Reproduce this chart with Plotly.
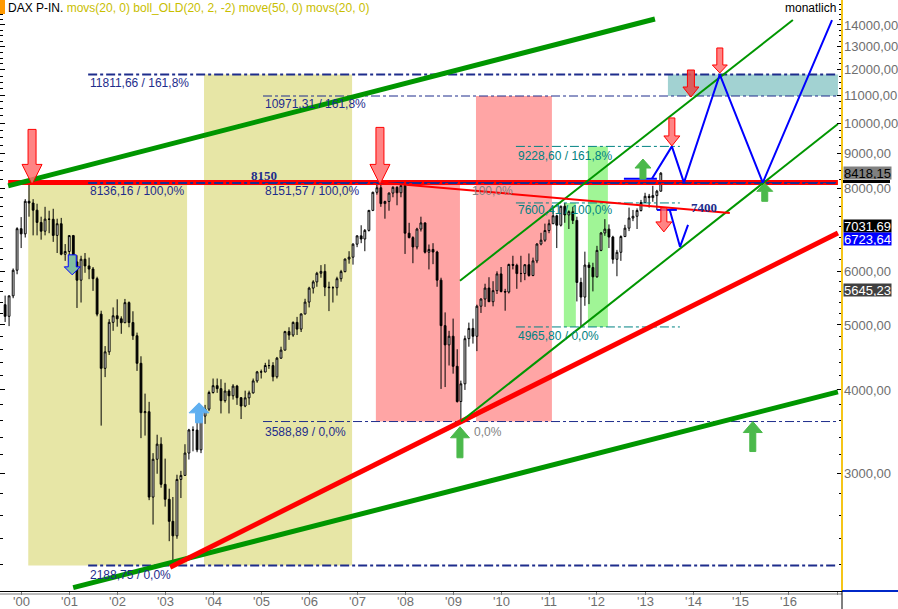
import numpy as np
import pandas as pd
import plotly.graph_objects as go

# ---------------- data (monthly DAX candles) ----------------
months = pd.date_range("1999-09-01", "2013-05-01", freq="MS")

opens = [5360, 5150, 5525, 6033,
         6958, 6835, 7644, 7599, 7414, 7109, 6898, 7190, 7186, 6799, 7077, 6373,
         6434, 6795, 6208, 5830, 6265, 6123, 6058, 5861, 5189, 4308, 4559, 5045,
         5160, 5107, 5039, 5398, 5041, 4818, 4383, 3700, 3712, 2769, 3153, 3321,
         2893, 2748, 2548, 2424, 2942, 2983, 3221, 3487, 3485, 3257, 3656, 3745,
         3965, 4059, 4018, 3856, 3985, 3921, 4053, 3895, 3785, 3893, 3960, 4126,
         4256, 4254, 4350, 4349, 4185, 4461, 4586, 4887, 4829, 5044, 4929, 5193,
         5408, 5674, 5796, 5970, 6009, 5693, 5683, 5682, 5860, 6004, 6269, 6309,
         6597, 6789, 6715, 6917, 7409, 7883, 8007, 7584, 7638, 7862, 8019, 7871,
         8067, 6851, 6748, 6535, 6949, 7097, 6418, 6479, 6422, 5831, 4988, 4669,
         4810, 4338, 3844, 4085, 4770, 4941, 4809, 5332, 5465, 5675, 5415, 5625,
         5957, 5608, 5598, 6154, 6136, 5964, 5966, 6148, 5925, 6229, 6601, 6688,
         6914, 7077, 7273, 7041, 7514, 7294, 7376, 7159, 5785, 5502, 6141, 6089,
         5898, 6458, 6856, 6947, 6761, 6264, 6416, 6772, 6970, 7216, 7260, 7405,
         7612, 7776, 7741, 7795, 7914]
highs = [5530, 5530, 6070, 6992,
         7240, 7700, 8136.16, 7700, 7580, 7250, 7500, 7400, 7450, 7200, 7220, 6600,
         6800, 6810, 6350, 6340, 6400, 6300, 6100, 5900, 5250, 4650, 5100, 5310,
         5460, 5150, 5467, 5420, 5240, 4870, 4490, 3950, 3840, 3220, 3430, 3400,
         3160, 2850, 2770, 2990, 3030, 3320, 3500, 3530, 3680, 3670, 3800, 3990,
         4160, 4160, 4150, 4100, 4010, 4080, 4070, 3900, 3990, 3990, 4160, 4270,
         4290, 4390, 4440, 4400, 4480, 4640, 4900, 4960, 5060, 5140, 5200, 5470,
         5700, 5830, 6000, 6140, 6160, 5800, 5710, 5900, 6040, 6280, 6440, 6620,
         6800, 7040, 6950, 7420, 7900, 8090, 8151.57, 7660, 7880, 8050, 8050, 8100,
         8100, 7100, 6780, 6980, 7250, 7110, 6590, 6620, 6450, 5880, 5220, 4900,
         5110, 4600, 4130, 4820, 5040, 5110, 5360, 5480, 5760, 5890, 5810, 6010,
         6100, 5660, 6170, 6340, 6170, 6340, 6160, 6390, 6300, 6620, 6860, 7080,
         7180, 7440, 7300, 7530, 7600.41, 7410, 7500, 7250, 5880, 6430, 6200, 6190,
         6560, 6880, 7190, 7060, 6790, 6470, 6800, 7050, 7480, 7420, 7460, 7680,
         7870, 7840, 8060, 7950, 8450]
lows = [5050, 4980, 5480, 5950,
        6510, 6750, 7250, 6800, 6800, 6700, 6800, 6850, 6650, 6400, 6350, 6230,
        6200, 6100, 5300, 5400, 5980, 5850, 5620, 5150, 3539, 4180, 4510, 4900,
        4970, 4850, 5030, 4960, 4750, 4270, 3390, 3420, 2740, 2520, 3000, 2860,
        2680, 2380, 2188.75, 2400, 2760, 2980, 3150, 3240, 3230, 3220, 3560, 3720,
        3950, 3960, 3690, 3830, 3690, 3870, 3800, 3620, 3770, 3800, 3950, 4100,
        4160, 4250, 4300, 4120, 4160, 4450, 4580, 4750, 4800, 4830, 4880, 5180,
        5310, 5570, 5700, 5880, 5520, 5243, 5400, 5530, 5800, 5990, 6170, 6150,
        6530, 6620, 6440, 6890, 7390, 7820, 7500, 7200, 7400, 7750, 7540, 7750,
        6380, 6730, 6180, 6480, 6890, 6390, 6050, 6160, 5700, 4014, 4040, 4350,
        4230, 3830, 3588.89, 4000, 4640, 4690, 4570, 5210, 5320, 5410, 5330, 5560,
        5590, 5250, 5570, 6050, 5660, 5790, 5830, 5900, 5910, 6180, 6570, 6650,
        6850, 7070, 6510, 7010, 7100, 6950, 7070, 5420, 4965.80, 5340, 5370, 5610,
        5880, 6440, 6790, 6510, 6170, 5910, 6230, 6760, 6900, 7140, 6950, 7380,
        7600, 7480, 7630, 7420, 7900]
closes = [5150, 5525, 6033, 6958,
          6835, 7644, 7599, 7414, 7109, 6898, 7190, 7186, 6799, 7077, 6373, 6434,
          6795, 6208, 5830, 6265, 6123, 6058, 5861, 5189, 4308, 4559, 5045, 5160,
          5107, 5039, 5398, 5041, 4818, 4383, 3700, 3712, 2769, 3153, 3321, 2893,
          2748, 2548, 2424, 2942, 2983, 3221, 3487, 3485, 3257, 3656, 3745, 3965,
          4059, 4018, 3856, 3985, 3921, 4053, 3895, 3785, 3893, 3960, 4126, 4256,
          4254, 4350, 4349, 4185, 4461, 4586, 4887, 4829, 5044, 4929, 5193, 5408,
          5674, 5796, 5970, 6009, 5693, 5683, 5682, 5860, 6004, 6269, 6309, 6597,
          6789, 6715, 6917, 7409, 7883, 8007, 7584, 7638, 7862, 8019, 7871, 8067,
          6851, 6748, 6535, 6949, 7097, 6418, 6479, 6422, 5831, 4988, 4669, 4810,
          4338, 3844, 4085, 4770, 4941, 4809, 5332, 5465, 5675, 5415, 5625, 5957,
          5608, 5598, 6154, 6136, 5964, 5966, 6148, 5925, 6229, 6601, 6688, 6914,
          7077, 7273, 7041, 7514, 7294, 7376, 7159, 5785, 5502, 6141, 6089, 5898,
          6458, 6856, 6947, 6761, 6264, 6416, 6772, 6970, 7216, 7260, 7405, 7612,
          7776, 7741, 7795, 7914, 8418.15]

# Fibonacci levels
fib_navy = [11811.66, 10971.31, 8136.16, 8151.57, 3588.89, 2188.75]
fib_teal = [9228.60, 7600.41, 4965.80]
level_8150 = 8150
level_7400 = 7421

# indicator values shown on the right axis
value_labels = [("8418,15", 8418.15, "#808080", "black"),
                ("7031,69", 7031.69, "black", "white"),
                ("6723,64", 6723.64, "#0000FF", "white"),
                ("5645,23", 5645.23, "#404040", "white")]

# axis ticks (7000 is hidden behind the value boxes in the reference)
x_years = list(range(2000, 2017))
x_labels = ["'%02d" % (y % 100) for y in x_years]
y_ticks = [3000, 4000, 5000, 6000, 8000, 9000, 10000, 11000, 12000, 13000, 14000]
y_minor = list(range(2200, 6000, 200)) + list(range(6250, 15001, 250))

# ---------------- geometry helpers ----------------
X_RANGE = ["1999-07-24", "2017-02-08"]
Y_MIN, Y_MAX = 2006, 15254
PLOT_W, PLOT_H = 842, 591
DAYS_PER_PX = (pd.Timestamp(X_RANGE[1]) - pd.Timestamp(X_RANGE[0])).days / PLOT_W
DEC_PER_PX = (np.log10(Y_MAX) - np.log10(Y_MIN)) / PLOT_H

NAVY = "rgb(30,45,140)"
TEAL = "rgb(0,130,130)"
GREEN = "rgb(0,150,0)"
RED = "rgb(255,0,0)"
BLUE = "rgb(0,0,255)"

fig = go.Figure()
shapes = []


def rect(x0, x1, y0, y1, color):
    shapes.append(dict(type="rect", xref="x", yref="y", x0=x0, x1=x1, y0=y0, y1=y1,
                       fillcolor=color, line=dict(width=0), layer="below"))


def line(xs, ys, color, width, dash="solid"):
    fig.add_trace(go.Scatter(x=xs, y=ys, mode="lines",
                             line=dict(color=color, width=width, dash=dash),
                             hoverinfo="skip"))


def arrow(tip_date, tip_price, direction, length, head_len, shaft_w, head_w,
          fill, outline):
    t = pd.Timestamp(tip_date)
    s = 1 if direction == "down" else -1
    pts = [(0, 0), (head_w / 2, head_len), (shaft_w / 2, head_len),
           (shaft_w / 2, length), (-shaft_w / 2, length),
           (-shaft_w / 2, head_len), (-head_w / 2, head_len), (0, 0)]
    xs = [t + pd.Timedelta(days=dx * DAYS_PER_PX) for dx, dy in pts]
    ys = [tip_price * 10 ** (s * dy * DEC_PER_PX) for dx, dy in pts]
    fig.add_trace(go.Scatter(x=xs, y=ys, mode="lines", fill="toself",
                             fillcolor=fill, line=dict(color=outline, width=1),
                             hoverinfo="skip"))


# ---------------- shaded zones ----------------
KHAKI = "rgb(231,230,166)"
PINK = "rgb(255,165,165)"
LGREEN = "rgb(160,245,150)"
LTEAL = "rgb(162,210,210)"
rect("2000-02-24", "2003-06-17", fib_navy[5], fib_navy[2], KHAKI)
rect("2003-10-24", "2006-11-24", fib_navy[5], fib_navy[0], KHAKI)
rect("2007-05-24", "2009-02-22", fib_navy[4], fib_navy[3], PINK)
rect("2009-06-24", "2011-01-23", fib_navy[4], fib_navy[1], PINK)
rect("2011-04-24", "2011-07-24", fib_teal[2], fib_teal[1], LGREEN)
rect("2011-10-24", "2012-03-24", fib_teal[2], fib_teal[0], LGREEN)
rect("2013-06-24", "2017-01-08", fib_navy[1], fib_navy[0], LTEAL)

# ---------------- candles ----------------
fig.add_trace(go.Candlestick(
    x=months, open=opens, high=highs, low=lows, close=closes,
    increasing=dict(line=dict(color="black", width=1), fillcolor="white"),
    decreasing=dict(line=dict(color="black", width=1), fillcolor="black"),
    whiskerwidth=0, hoverinfo="skip"))

# ---------------- horizontal fib lines ----------------
END = "2017-01-08"
line(["1999-09-24", END], [level_8150, level_8150], RED, 5)
line(["2001-05-25", END], [fib_navy[0]] * 2, NAVY, 2, "dashdot")
line(["2005-01-15", END], [fib_navy[1]] * 2, NAVY, 1, "dashdot")
line(["2001-05-25", END], [fib_navy[2]] * 2, NAVY, 2, "dashdot")
line(["2005-01-15", END], [fib_navy[3]] * 2, NAVY, 1, "dashdot")
line(["2005-01-15", END], [fib_navy[4]] * 2, NAVY, 1, "dashdot")
line(["2001-05-25", END], [fib_navy[5]] * 2, NAVY, 2, "dashdot")
for v in fib_teal:
    line(["2010-04-24", "2013-09-23"], [v, v], TEAL, 1, "dashdot")

# ---------------- trend lines ----------------
line(["1999-09-24", "2013-03-17"], [8057, 14290], GREEN, 5)
line(["2001-01-31", END], [2029, 3974], GREEN, 5)
line(["2003-02-08", END], [2177, 6856], RED, 5)
line(["2009-02-22", "2016-01-31"], [5818, 14238], GREEN, 2)
line(["2009-03-01", END], [fib_navy[4], 9965], GREEN, 2)
line(["2007-06-24", "2014-10-08"], [fib_navy[3], 7345], RED, 2)

# ---------------- projected paths ----------------
line(["2012-07-24", "2013-04-01"], [8260, 8260], BLUE, 2)
line(["2013-02-22", "2013-07-24", "2013-10-24", "2014-07-24", "2015-06-16", "2016-11-24"],
     [8260, fib_teal[0], level_8150, fib_navy[0], level_8150, 14240], BLUE, 2)
line(["2013-04-01", "2013-08-31"], [level_7400, level_7400], BLUE, 2)
line(["2013-07-08", "2013-09-24", "2013-11-24"], [level_7400, 6537, 7048], BLUE, 2)

# ---------------- arrows ----------------
SALMON = "rgba(255,110,110,0.85)"
GFILL = "rgb(75,185,75)"
arrow("2000-03-24", 8100, "down", 55, 20, 8, 20, SALMON, RED)
arrow("2007-06-24", 8100, "down", 57, 20, 8, 20, SALMON, RED)
arrow("2013-07-24", 9243, "down", 28, 10, 6, 16, SALMON, RED)
arrow("2013-12-16", 10934, "down", 27, 10, 7, 16, "rgba(225,80,80,0.9)", RED)
arrow("2014-07-24", 11874, "down", 25, 8, 6, 15, SALMON, RED)
arrow("2013-05-24", 6881, "down", 24, 10, 6, 16, SALMON, RED)
arrow("2009-02-22", 3525, "up", 31, 11, 6, 19, GFILL, GFILL)
arrow("2012-12-16", 8837, "up", 20, 9, 6, 16, GFILL, GFILL)
arrow("2015-07-01", 8130, "up", 18, 8, 6, 16, GFILL, GFILL)
arrow("2015-04-01", 3588.89, "up", 30, 11, 6, 19, GFILL, GFILL)
arrow("2003-09-16", 3827, "up", 20, 10, 7, 20, "rgb(95,175,240)", "rgb(95,175,240)")
arrow("2001-01-24", 5938, "down", 20, 8, 8, 16, "rgb(130,190,160)", BLUE)

# ---------------- text annotations ----------------
ann = []


def txt(x, yv, text, color, size=12, xanchor="left", yshift=0, bold=False, family="Liberation Sans, Arial"):
    ann.append(dict(x=x, y=np.log10(yv), xref="x", yref="y", text=text,
                    showarrow=False, xanchor=xanchor, yanchor="middle", yshift=yshift,
                    font=dict(color=color, size=size, family=family,
                              weight="bold" if bold else "normal")))


txt("2001-05-25", fib_navy[0], "11811,66 / 161,8%", NAVY, yshift=-8)
txt("2005-01-15", fib_navy[1], "10971,31 / 161,8%", NAVY, yshift=-8)
txt("2001-05-25", fib_navy[2], "8136,16 / 100,0%", NAVY, yshift=-8)
txt("2005-01-15", fib_navy[3], "8151,57 / 100,0%", NAVY, yshift=-8)
txt("2005-01-15", fib_navy[4], "3588,89 / 0,0%", NAVY, yshift=-10)
txt("2001-05-25", fib_navy[5], "2188,75 / 0,0%", NAVY, yshift=-9)
txt("2010-04-24", fib_teal[0], "9228,60 / 161,8%", TEAL, yshift=-10)
txt("2010-04-24", fib_teal[1], "7600,41 / 100,0%", TEAL, yshift=-7)
txt("2010-04-24", fib_teal[2], "4965,80 / 0,0%", TEAL, yshift=-9)
txt("2009-05-08", fib_navy[3], "100,0%", "rgb(130,130,130)", yshift=-8)
txt("2009-05-24", fib_navy[4], "0,0%", "rgb(130,130,130)", yshift=-10)
txt("2005-01-20", level_8150, "8150", NAVY, size=13, xanchor="center", yshift=7,
    bold=True, family="Liberation Serif, Times New Roman")
txt("2014-03-24", level_7400, "7400", NAVY, size=13, xanchor="center", yshift=2,
    bold=True, family="Liberation Serif, Times New Roman")

for text, v, bg, fc in value_labels:
    ann.append(dict(x=1.001, y=np.log10(v), xref="paper", yref="y", text=text,
                    showarrow=False, xanchor="left", yanchor="middle",
                    bgcolor=bg, borderpad=0, height=12, valign="middle",
                    font=dict(color=fc, size=13, family="Liberation Sans, Arial")))

for yr, lab in zip(x_years, x_labels):
    ann.append(dict(x="%d-01-01" % yr, y=0, xref="x", yref="paper", text=lab,
                    showarrow=False, xanchor="center", yanchor="top", yshift=-1,
                    font=dict(color="rgb(110,110,110)", size=13, family="Liberation Sans, Arial")))

ann.append(dict(x=6 / PLOT_W, y=1, xref="paper", yref="paper", xanchor="left", yanchor="top",
                yshift=1, showarrow=False,
                text="<span style='color:black'>DAX P-IN.</span> "
                     "<span style='color:rgb(200,190,0)'>movs(20, 0) boll_OLD(20, 2, -2) "
                     "move(50, 0) movs(20, 0)</span>",
                font=dict(size=12, family="Liberation Sans, Arial")))
ann.append(dict(x=838 / PLOT_W, y=1, xref="paper", yref="paper", xanchor="right", yanchor="top",
                yshift=1, showarrow=False, text="monatlich",
                font=dict(size=12, color="black", family="Liberation Sans, Arial")))

shapes += [
    dict(type="rect", xref="paper", yref="paper", x0=0, x1=5 / PLOT_W, y0=1 - 14 / PLOT_H, y1=1,
         fillcolor="#FF9900", line=dict(width=0)),
    dict(type="rect", xref="paper", yref="y", x0=1.0, x1=1 + 48 / PLOT_W, y0=8141, y1=8225,
         fillcolor="black", line=dict(width=0)),
    dict(type="line", xref="paper", yref="paper", x0=1, x1=1, y0=0, y1=1,
         line=dict(color="#F5C518", width=2)),
    dict(type="line", xref="paper", yref="paper", x0=0, x1=1, y0=-3 / PLOT_H, y1=-3 / PLOT_H,
         line=dict(color="rgb(120,120,120)", width=1)),
    dict(type="line", xref="paper", yref="paper", x0=1, x1=1.07, y0=0, y1=0,
         line=dict(color="rgb(0,40,200)", width=2)),
    dict(type="line", xref="paper", yref="paper", x0=1, x1=1, y0=0, y1=-0.04,
         line=dict(color="black", width=1)),
]

fig.update_layout(
    width=898, height=609,
    margin=dict(l=0, r=56, t=0, b=18),
    paper_bgcolor="white", plot_bgcolor="white",
    showlegend=False, hovermode=False,
    separators=",.",
    annotations=ann, shapes=shapes,
    xaxis=dict(type="date", range=X_RANGE, rangeslider=dict(visible=False),
               tick0="2000-01-01", dtick="M12", showticklabels=False,
               showgrid=False, zeroline=False, showline=True, linecolor="black", linewidth=1,
               ticks="outside", ticklen=3, tickcolor="rgb(120,120,120)",
               automargin=False),
    yaxis=dict(type="log", side="right", range=[np.log10(Y_MIN), np.log10(Y_MAX)],
               tickmode="array", tickvals=y_ticks, tickformat=".2f",
               showgrid=False, zeroline=False, showline=False, mirror="ticks",
               ticks="inside", ticklen=5, tickcolor="black",
               minor=dict(tickmode="array", tickvals=y_minor, ticks="inside", ticklen=3,
                          tickcolor="black", showgrid=False),
               ticklabelstandoff=1,
               tickfont=dict(size=13, color="rgb(110,110,110)", family="Liberation Sans, Arial"),
               automargin=False),
)

fig.write_html("out.html", config={"displayModeBar": False},
               post_script="document.body.style.margin='0px';document.body.style.overflow='hidden';")
